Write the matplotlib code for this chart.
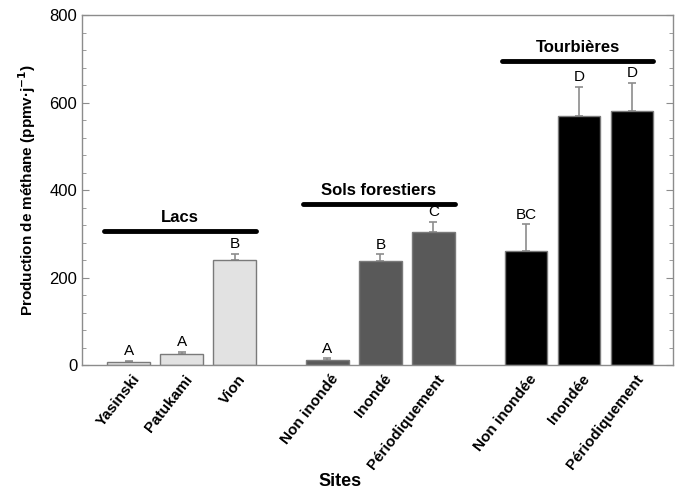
import numpy as np
import matplotlib.pyplot as plt
from matplotlib.ticker import MultipleLocator
from matplotlib.transforms import ScaledTranslation

plt.rcParams['font.family'] = ['Liberation Sans', 'DejaVu Sans']

# ── Données ──────────────────────────────────────────────────────────────────
sites = ["Yasinski", "Patukami", "Vion",
         "Non inondé", "Inondé", "Périodiquement",
         "Non inondée", "Inondée", "Périodiquement"]
production = [7, 25, 241, 11, 238, 305, 260, 570, 580]
erreur = [3, 5, 14, 4, 15, 22, 62, 66, 65]
lettres = ["A", "A", "B", "A", "B", "C", "BC", "D", "D"]
groupes = ["Lacs", "Sols forestiers", "Tourbières"]
taille_groupe = [3, 3, 3]
couleurs_groupe = ["#e2e2e2", "#595959", "#000000"]
hauteur_trait = [306, 368, 695]

# positions des barres : 3 groupes séparés par un espace
ecart = 0.75
pos = []
cols = []
start = 0.0
for g, n in enumerate(taille_groupe):
    pos += [start + i for i in range(n)]
    cols += [couleurs_groupe[g]] * n
    start += n + ecart
pos = np.array(pos)

fig = plt.figure(figsize=(6.75, 4.9), dpi=100)
ax = fig.add_axes([0.1215, 0.255, 0.8755, 0.714])

ax.bar(pos, production, width=0.8, color=cols, edgecolor="#7a7a7a", linewidth=1.0,
       zorder=2)
ax.errorbar(pos, production, yerr=[np.zeros(len(erreur)), erreur], fmt='none',
            ecolor="#8c8c8c", elinewidth=1.2, capsize=3, capthick=1.2, zorder=1)

for x, y, e, t in zip(pos, production, erreur, lettres):
    ax.text(x, y + e + 6, t, ha='center', va='bottom', fontsize=11)

# traits horizontaux + nom du groupe
i0 = 0
for g, n in enumerate(taille_groupe):
    x0 = pos[i0] - 0.46
    x1 = pos[i0 + n - 1] + 0.4
    ax.plot([x0, x1], [hauteur_trait[g]] * 2, color='black', lw=3.5,
            solid_capstyle='round', zorder=3)
    ax.text((x0 + x1) / 2, hauteur_trait[g] + 14, groupes[g], ha='center',
            va='bottom', fontsize=12, fontweight='bold')
    i0 += n

ax.set_xlim(-0.88, 10.27)
ax.set_ylim(0, 800)
ax.yaxis.set_major_locator(MultipleLocator(200))
ax.yaxis.set_minor_locator(MultipleLocator(40))
ax.tick_params(axis='y', which='both', direction='in', left=True, right=True,
               color="#8c8c8c", labelsize=12)
ax.tick_params(axis='y', which='major', length=5)
ax.tick_params(axis='y', which='minor', length=3)
ax.tick_params(axis='x', length=0, pad=5)
ax.set_xticks(pos)
ax.set_xticklabels(sites, rotation=52, ha='right', rotation_mode='anchor',
                   fontsize=11, fontweight='bold')
decal = ScaledTranslation(2 / 72, 0, fig.dpi_scale_trans)
for lab in ax.get_xticklabels():
    lab.set_transform(lab.get_transform() + decal)
for s in ax.spines.values():
    s.set_color("#8c8c8c")
    s.set_linewidth(1.0)

ax.set_ylabel("Production de méthane (ppmv·j$^{\\mathbf{-1}}$)", fontsize=11,
              fontweight='bold', labelpad=8)
ax.set_xlabel("Sites", fontsize=13, fontweight='bold', va='center')
ax.xaxis.set_label_coords(0.4365, -0.334)

fig.savefig("out.png", dpi=100)
